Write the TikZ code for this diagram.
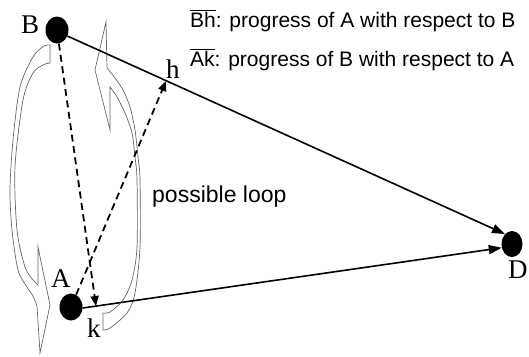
\documentclass[tikz,border=0pt]{standalone}
\usepackage{fontspec}
\setmainfont{Liberation Serif}
\newfontfamily\arialfont{Liberation Sans}
\usetikzlibrary{arrows.meta,shapes.geometric}
\begin{document}
\begin{tikzpicture}[x=1pt,y=-1pt,
  dot/.style={ellipse,fill=black,inner sep=0pt,minimum width=23pt,minimum height=27pt},
  lbl/.style={font=\fontsize{27}{27}\selectfont,inner sep=0pt,anchor=base west},
  txt/.style={font=\arialfont\fontsize{21}{24}\selectfont,inner sep=0pt,anchor=base west},
  solidarrow/.style={line width=1.6pt,-{Triangle[length=13pt,width=9pt]}},
  dasharrow/.style={line width=1.8pt,dash pattern=on 7pt off 4.5pt,-{Triangle[length=10pt,width=8pt]}},
  loopline/.style={draw=black!60,line width=0.7pt}]
\useasboundingbox (0,0) rectangle (529,356);

% loop arrows
\draw[loopline] (50,45) -- (50,63) -- plot[smooth] coordinates {(50,63) (43,65) (33,73) (23,100) (15,167) (17,230) (25,267) (33,280) (38,285)} -- (38,247) -- (50,305) -- (40,353) -- (37,306) -- plot[smooth] coordinates {(37,306) (33,296) (27,287) (18,270) (12,230) (10,190) (13,140) (20,87) (33,57) (44,46) (50,45)} -- cycle;
\draw[loopline] (106,22) -- (107,68) -- plot[smooth] coordinates {(107,68) (115,78) (123,90) (130,107) (135,130) (138,157) (140,180) (140,247) (135,293) (127,313) (110,328) (103,330)} -- (103,313) -- plot[smooth] coordinates {(103,313) (110,312) (123,300) (132,280) (137,247) (137,180) (135,157) (132,133) (125,113) (117,97) (110,87)} -- (110,130) -- (95,70) -- cycle;

% nodes
\node[dot] (B) at (57,30) {};
\node[dot] (A) at (71,307) {};
\node[dot,minimum width=21pt,minimum height=26pt] (D) at (512,244) {};
\coordinate (h) at (166,81);
\coordinate (k) at (96,306);

% connectors
\draw[solidarrow] (B.-30) -- (D.125);
\draw[solidarrow] (A.-5) -- (D.200);
\draw[dasharrow] (B) -- (k);
\draw[dasharrow] (A) -- (h);

% labels
\node[lbl] (lB) at (21,33) {B};
\node[lbl] (lh) at (166,78) {h};
\node[lbl] (lA) at (51,287) {A};
\node[lbl] (lk) at (87,337) {k};
\node[lbl] (lD) at (508,278) {D};

\node[txt] (t1) at (190,27) {$\overline{\mbox{Bh}}$: progress of A with respect to B};
\node[txt] (t2) at (190,66) {$\overline{\mbox{Ak}}$: progress of B with respect to A};
\node[txt,font=\arialfont\fontsize{23}{26}\selectfont] (pl) at (152,202) {possible loop};
\end{tikzpicture}
\end{document}
